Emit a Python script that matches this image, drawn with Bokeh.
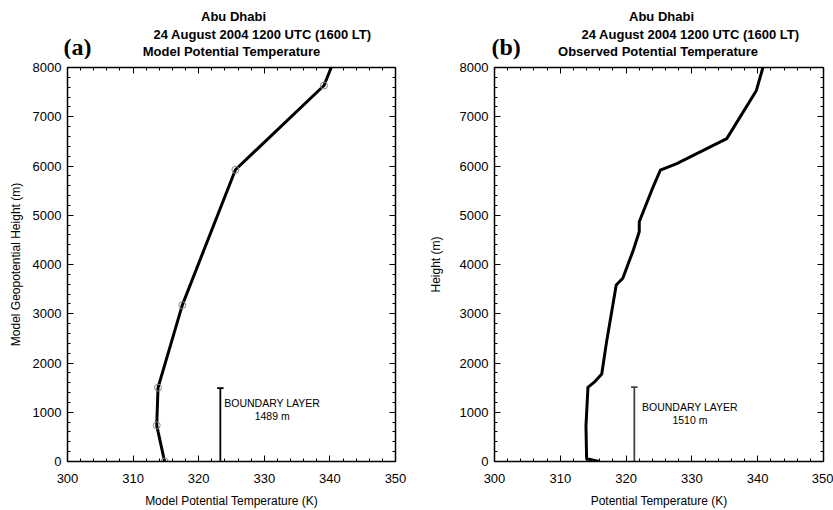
from bokeh.plotting import figure
from bokeh.layouts import row, column
from bokeh.models import Label, LinearAxis, Range1d, SingleIntervalTicker
from bokeh.embed import file_html
from bokeh.resources import INLINE

# ---- data ----
model_theta = [314.8, 313.6, 313.8, 317.5, 325.6, 339.1, 341.7]
model_height = [0, 733, 1500, 3176, 5924, 7634, 8500]
model_bl_theta = 323.3
model_bl_height = 1489

obs_theta = [315.9, 314.0, 313.9, 314.2, 315.3, 316.3, 317.0, 318.5, 319.5, 321.1,
             322.0, 322.0, 323.9, 325.2, 327.7, 335.3, 339.8, 340.9]
obs_height = [0, 55, 715, 1505, 1627, 1776, 2404, 3585, 3720, 4294,
              4664, 4867, 5509, 5914, 6050, 6556, 7534, 8050]
obs_bl_theta = 321.25
obs_bl_height = 1510

title_place = "Abu Dhabi"
title_date = "24 August 2004 1200 UTC (1600 LT)"
subtitle_a = "Model Potential Temperature"
subtitle_b = "Observed Potential Temperature"

SANS = "Liberation Sans"
STRIP_H = 59


def style_axes(p, xlabel, ylabel, ylab_standoff):
    p.xaxis.ticker = SingleIntervalTicker(interval=10, num_minor_ticks=5)
    p.yaxis.ticker = SingleIntervalTicker(interval=1000, num_minor_ticks=5)
    for ax in p.xaxis + p.yaxis:
        ax.major_tick_in = 6
        ax.major_tick_out = 0
        ax.minor_tick_in = 3
        ax.minor_tick_out = 0
        ax.axis_line_width = 1.5
        ax.axis_line_color = "black"
        ax.major_tick_line_color = "black"
        ax.minor_tick_line_color = "black"
        ax.major_label_text_font = SANS
        ax.major_label_text_font_size = "13px"
        ax.major_label_text_color = "black"
        ax.axis_label_text_font = SANS
        ax.axis_label_text_font_size = "12px"
        ax.axis_label_text_font_style = "normal"
        ax.axis_label_text_color = "black"
    p.xaxis.axis_label = xlabel
    p.yaxis.axis_label = ylabel
    p.xaxis.major_label_standoff = 12
    p.xaxis.axis_label_standoff = 8
    p.yaxis.major_label_standoff = 6
    p.yaxis.axis_label_standoff = ylab_standoff

    top = LinearAxis(ticker=SingleIntervalTicker(interval=10, num_minor_ticks=5))
    right = LinearAxis(ticker=SingleIntervalTicker(interval=1000, num_minor_ticks=5))
    for ax in (top, right):
        ax.major_tick_in = 6
        ax.major_tick_out = 0
        ax.minor_tick_in = 3
        ax.minor_tick_out = 0
        ax.axis_line_width = 1.5
        ax.axis_line_color = "black"
        ax.major_tick_line_color = "black"
        ax.minor_tick_line_color = "black"
        ax.major_label_text_font_size = "0px"
        ax.major_label_text_color = None
        ax.major_label_standoff = 0
    p.add_layout(top, "above")
    p.add_layout(right, "right")
    p.xgrid.visible = False
    p.ygrid.visible = False
    p.outline_line_color = None


def make_panel(width, bl, br, theta, height, bl_theta, bl_height,
               xlabel, ylabel, ylab_standoff, bl_color, circles, bl_text_x, bl_text_y):
    p = figure(width=width, height=510 - STRIP_H, output_backend="svg", toolbar_location=None,
               x_range=Range1d(300, 350), y_range=Range1d(0, 8000),
               min_border_left=bl, min_border_right=br, min_border_top=8,
               min_border_bottom=48)
    style_axes(p, xlabel, ylabel, ylab_standoff)
    p.line(theta, height, line_color="black", line_width=3, line_join="round")
    if circles:
        p.scatter(theta, height, marker="circle", size=7, fill_color=None,
                  line_color="#888888", line_width=1)
    # boundary layer marker
    p.segment(x0=[bl_theta], y0=[0], x1=[bl_theta], y1=[bl_height],
              line_color=bl_color, line_width=1.8)
    p.segment(x0=[bl_theta - 0.5], y0=[bl_height], x1=[bl_theta + 0.5], y1=[bl_height],
              line_color=bl_color, line_width=1.8)
    p.add_layout(Label(x=bl_text_x, y=bl_text_y, text="BOUNDARY LAYER",
                       text_font=SANS, text_font_size="10.5px",
                       text_align="center", text_baseline="middle", text_color="black"))
    p.add_layout(Label(x=bl_text_x, y=bl_text_y - 260, text=f"{bl_height} m",
                       text_font=SANS, text_font_size="10.5px",
                       text_align="center", text_baseline="middle", text_color="black"))
    return p


# title strip (coordinates in pixels, y downward)
t = figure(width=833, height=STRIP_H, output_backend="svg", toolbar_location=None,
           x_range=Range1d(0, 833), y_range=Range1d(STRIP_H, 0),
           x_axis_type=None, y_axis_type=None,
           min_border_left=0, min_border_right=0, min_border_top=0, min_border_bottom=0)
t.outline_line_color = None
t.xgrid.visible = False
t.ygrid.visible = False


def titles(xc, letter, subtitle, sub_dx):
    t.add_layout(Label(x=xc, y=16, text=title_place, text_font=SANS,
                       text_font_size="13px", text_font_style="bold", text_color="black",
                       text_align="center", text_baseline="middle"))
    t.add_layout(Label(x=xc + 29, y=34, text=title_date, text_font=SANS,
                       text_font_size="13px", text_font_style="bold", text_color="black",
                       text_align="center", text_baseline="middle"))
    t.add_layout(Label(x=xc + sub_dx, y=51, text=subtitle, text_font=SANS,
                       text_font_size="13px", text_font_style="bold", text_color="black",
                       text_align="center", text_baseline="middle"))
    t.add_layout(Label(x=xc - 170, y=46, text=letter, text_font="Liberation Serif",
                       text_font_size="24px", text_font_style="bold", text_color="black",
                       text_align="left", text_baseline="middle"))


titles(233, "(a)", subtitle_a, -2)
titles(661, "(b)", subtitle_b, -3.5)

pa = make_panel(417, 67, 22, model_theta, model_height, model_bl_theta, model_bl_height,
                "Model Potential Temperature (K)", "Model Geopotential Height (m)", 7,
                "black", True, 331.2, 1180)
pb = make_panel(416, 77, 10, obs_theta, obs_height, obs_bl_theta, obs_bl_height,
                "Potential Temperature (K)", "Height (m)", 14,
                "#444444", False, 329.7, 1100)

layout = column(t, row(pa, pb))
open("out.html", "w").write(file_html(layout, INLINE))
